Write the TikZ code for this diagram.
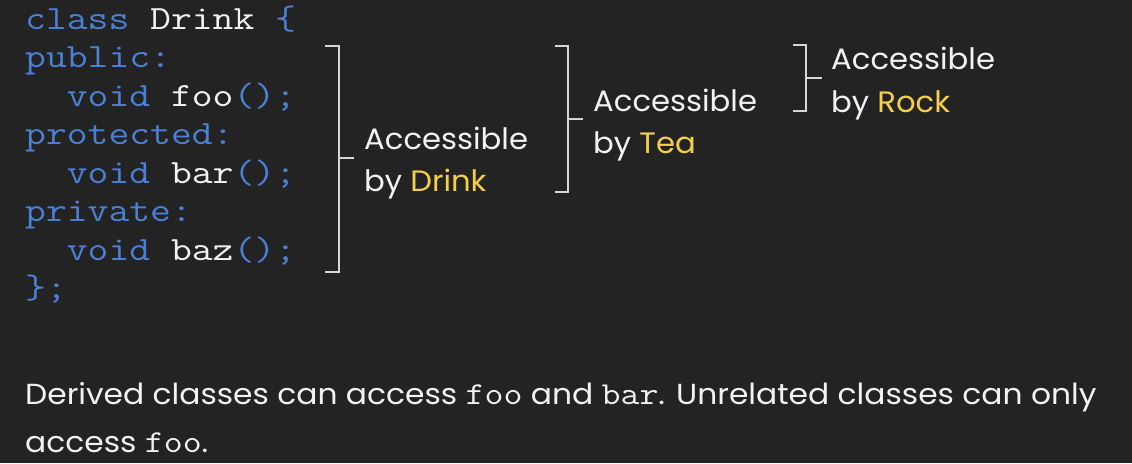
\documentclass[tikz,border=0pt]{standalone}
\usepackage{fontspec}
\setmainfont{Poppins}
\newfontfamily\lblfont[FakeStretch=1.04]{Poppins}
\newfontfamily\parafont[FakeStretch=1.08]{Poppins}
\newfontfamily\codefont[FakeStretch=1.19]{Latin Modern Mono}
\newfontfamily\inlinefont[FakeStretch=1.15]{Latin Modern Mono}
\definecolor{bg}{HTML}{232323}
\definecolor{kw}{HTML}{4A80D6}
\definecolor{txt}{HTML}{F2F2F2}
\definecolor{hl}{HTML}{F5CF4A}
\definecolor{brk}{HTML}{D6D6D6}
\tikzset{
  codeline/.style={anchor=base west, inner sep=0pt, text=kw, font=\codefont\fontsize{34}{38}\selectfont},
  lbl/.style={anchor=base west, inner sep=0pt, text=txt, font=\lblfont\fontsize{29.5}{34}\selectfont},
  para/.style={anchor=base west, inner sep=0pt, text=txt, font=\parafont\fontsize{29}{32}\selectfont},
  brace/.style={draw=brk, line width=1.8pt, line cap=butt, line join=miter}
}
\newcommand{\W}[1]{\textcolor{txt}{#1}}
\newcommand{\Y}[1]{\textcolor{hl}{#1}}
\newcommand{\Mono}[1]{{\inlinefont\fontsize{32}{32}\selectfont #1}}
\newcommand{\Ind}{\phantom{xx}}
\begin{document}
\begin{tikzpicture}[x=1pt,y=-1pt]
\fill[bg] (0,0) rectangle (1132,463);
\useasboundingbox (0,0) rectangle (1132,463);
% code
\node[codeline] (c1) at (25,29)    {class \W{Drink} \{};
\node[codeline] (c2) at (25,67.5)  {public:};
\node[codeline] (c3) at (25,106)   {\Ind void \W{foo}();};
\node[codeline] (c4) at (25,144.5) {protected:};
\node[codeline] (c5) at (25,183)   {\Ind void \W{bar}();};
\node[codeline] (c6) at (25,221.5) {private:};
\node[codeline] (c7) at (25,260)   {\Ind void \W{baz}();};
\node[codeline] (c8) at (25,298.5) {\};};
% brackets
\draw[brace] (325,46) -- (339,46) -- (339,272) -- (325,272);
\draw[brace] (339,158) -- (354,158);
\draw[brace] (555,46) -- (568,46) -- (568,192) -- (555,192);
\draw[brace] (568,119) -- (583,119);
\draw[brace] (793,45) -- (806,45) -- (806,111) -- (793,111);
\draw[brace] (806,78) -- (822,78);
% labels
\node[lbl] (d1) at (364,149) {Accessible};
\node[lbl] (d2) at (364,191) {by \Y{Drink}};
\node[lbl] (t1) at (593,111) {Accessible};
\node[lbl] (t2) at (593,153) {by \Y{Tea}};
\node[lbl] (r1) at (831,69) {Accessible};
\node[lbl] (r2) at (831,112) {by \Y{Rock}};
% paragraph
\node[para] (p1) at (25,404) {Derived classes can access \Mono{foo} and \Mono{bar}. Unrelated classes can only};
\node[para] (p2) at (25,452) {access \Mono{foo}.};
\end{tikzpicture}
\end{document}
